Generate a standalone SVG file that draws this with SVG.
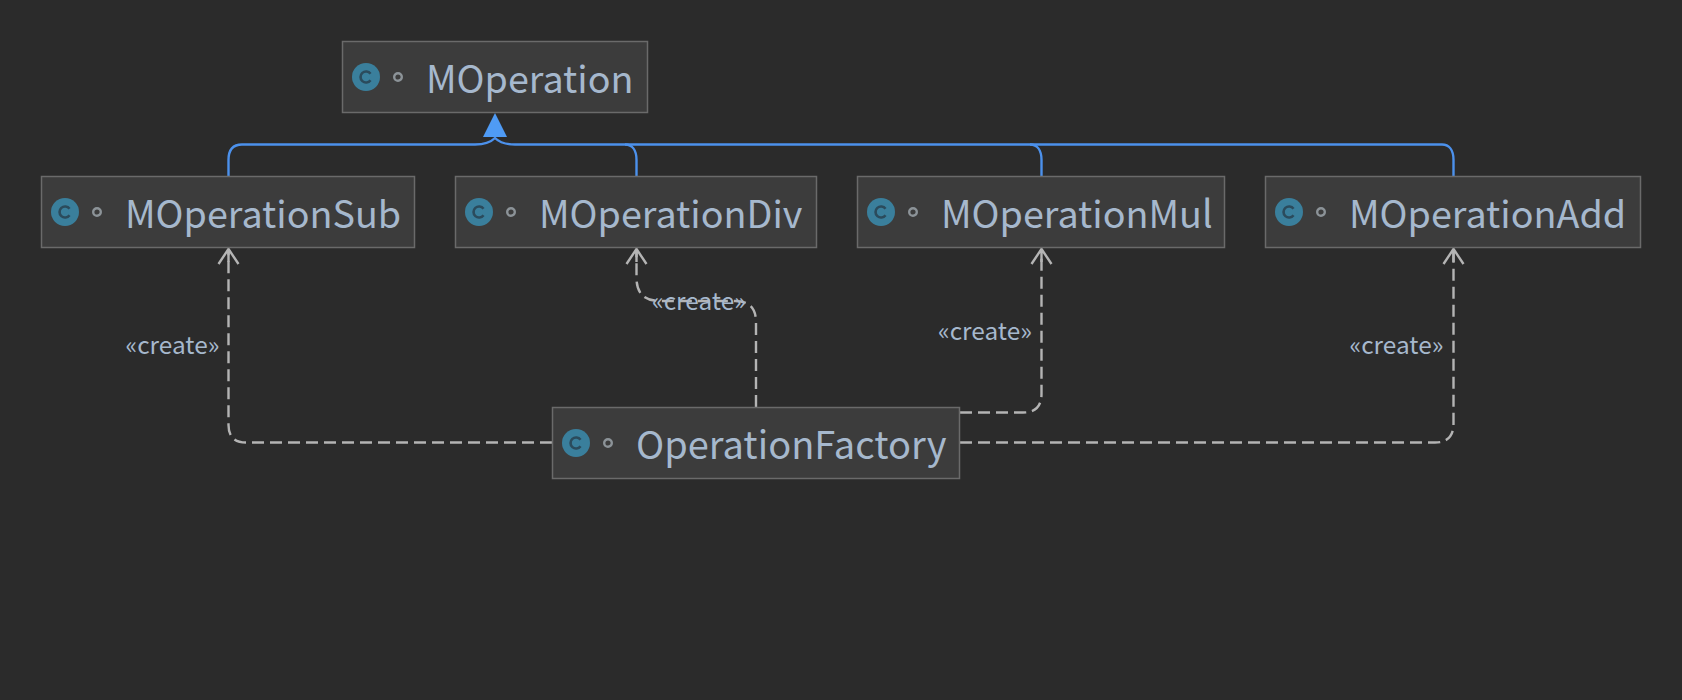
<svg xmlns="http://www.w3.org/2000/svg" width="1682" height="700" viewBox="0 0 1682 700">
<style>
.box{fill:#3c3c3c;stroke:#6a6a6a;stroke-width:1.5}
.ic{fill:#3a7f9c}
.icc{fill:none;stroke:#2b4b5c;stroke-width:2.6}
.vis{fill:none;stroke:#8c9398;stroke-width:2.4}
.name{font-family:"Noto Sans CJK SC","Noto Sans",sans-serif;font-size:37.7px;fill:#a6b8cd}
.lab{font-family:"Noto Sans CJK SC","Noto Sans",sans-serif;font-size:24.400px;fill:#a6b8cd}
.inh{fill:none;stroke:#4c91ec;stroke-width:2.4}
.dep{fill:none;stroke:#b4b4b4;stroke-width:2.4;stroke-dasharray:12 6}
.open{fill:none;stroke:#b4b4b4;stroke-width:2.4}
</style>
<defs>
<g id="icon"><circle class="ic" r="14"/><path class="icc" d="M4.5-3.2A5.5 5.5 0 1 0 4.5 3.2"/><circle class="vis" cx="32" r="3.8"/></g>
</defs>
<rect width="1682" height="700" fill="#2b2b2b"/>
<g id="connectors">
<path class="inh" d="M228.500 176V160C228.500 150 233 144.500 242 144.500H475C485 144.500 491 142 495 138C499 142 505 144.500 515 144.500H1442C1449 144.500 1453.500 150 1453.500 160V176"/>
<path class="inh" d="M636.500 176V160C636.500 150 632 144.500 625 144.500"/>
<path class="inh" d="M1041.500 176V160C1041.500 150 1037 144.500 1030 144.500"/>
<polygon points="495,113 483,137 507,137" fill="#4f9bf5"/>
<path class="dep" d="M552 442.500H246Q228.500 442.500 228.500 425V249"/>
<path class="open" d="M218.500 264L228.500 249L238.500 264M228.500 249V262"/>
<path class="dep" d="M756 407V322Q756 301 735 301H660Q636.500 301 636.500 278V249"/>
<path class="open" d="M626.500 264L636.500 249L646.500 264M636.500 249V262"/>
<path class="dep" d="M960 412.500H1023Q1041.500 412.500 1041.500 394V249"/>
<path class="open" d="M1031.500 264L1041.500 249L1051.500 264M1041.500 249V262"/>
<path class="dep" d="M960 442.500H1435Q1453.500 442.500 1453.500 424V249"/>
<path class="open" d="M1443.500 264L1453.500 249L1463.500 264M1453.500 249V262"/>
</g>
<g id="MOperation"><rect class="box" x="342.500" y="41.500" width="305" height="71"/><use href="#icon" x="366" y="77"/><text class="name" x="426" y="93">MOperation</text></g>
<g id="MOperationSub"><rect class="box" x="41.500" y="176.500" width="373" height="71"/><use href="#icon" x="65" y="212"/><text class="name" x="125" y="228">MOperationSub</text></g>
<g id="MOperationDiv"><rect class="box" x="455.500" y="176.500" width="361" height="71"/><use href="#icon" x="479" y="212"/><text class="name" x="539" y="228">MOperationDiv</text></g>
<g id="MOperationMul"><rect class="box" x="857.500" y="176.500" width="367" height="71"/><use href="#icon" x="881" y="212"/><text class="name" x="941" y="228">MOperationMul</text></g>
<g id="MOperationAdd"><rect class="box" x="1265.500" y="176.500" width="375" height="71"/><use href="#icon" x="1289" y="212"/><text class="name" x="1349" y="228">MOperationAdd</text></g>
<g id="OperationFactory"><rect class="box" x="552.500" y="407.500" width="407" height="71"/><use href="#icon" x="576" y="443"/><text class="name" x="636" y="459" font-size="38" style="font-size:38px">OperationFactory</text></g>
<g id="labels">
<text class="lab" x="125.500" y="354">«create»</text>
<text class="lab" x="652" y="310">«create»</text>
<text class="lab" x="938" y="340">«create»</text>
<text class="lab" x="1349.500" y="354">«create»</text>
</g>
</svg>
